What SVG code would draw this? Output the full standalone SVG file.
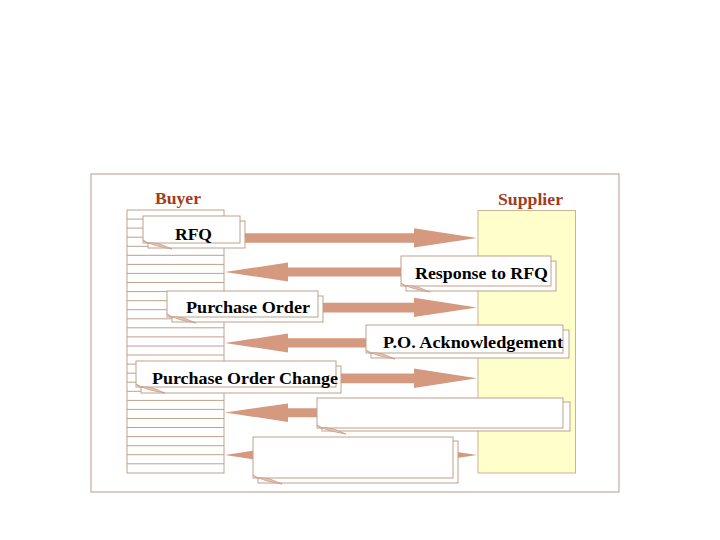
<svg xmlns="http://www.w3.org/2000/svg" width="720" height="540" viewBox="0 0 720 540">
<style>
.frame{fill:#ffffff;stroke:#c4ac9c;stroke-width:1.2}
.buyer{fill:#ffffff;stroke:#bfa08c;stroke-width:1}
.ln{stroke:#bfa08c;stroke-width:1}
.supplier{fill:#ffffcc;stroke:#cdb48e;stroke-width:1}
.arr{fill:#d4997e;stroke:none}
.pg{fill:#ffffff;stroke:#bfa08c;stroke-width:1}
.curl{fill:#e6c4b2;stroke:#bfa08c;stroke-width:0.8}
.hd{font-family:"Liberation Serif","Times New Roman",serif;font-weight:bold;font-size:17px;fill:#a23c1c}
.lb{font-family:"Liberation Serif","Times New Roman",serif;font-weight:bold;font-size:17px;fill:#000000}
</style>
<rect class="frame" x="91" y="174" width="528" height="318"/>
<g id="buyer">
<text class="hd" x="155" y="204" textLength="46" lengthAdjust="spacingAndGlyphs">Buyer</text>
<rect class="buyer" x="127" y="210" width="97" height="263"/>
<g class="ln">
<line x1="127" y1="219.1" x2="224" y2="219.1"/><line x1="127" y1="228.1" x2="224" y2="228.1"/><line x1="127" y1="237.2" x2="224" y2="237.2"/><line x1="127" y1="246.3" x2="224" y2="246.3"/><line x1="127" y1="255.3" x2="224" y2="255.3"/><line x1="127" y1="264.4" x2="224" y2="264.4"/><line x1="127" y1="273.4" x2="224" y2="273.4"/><line x1="127" y1="282.5" x2="224" y2="282.5"/><line x1="127" y1="291.6" x2="224" y2="291.6"/><line x1="127" y1="300.7" x2="224" y2="300.7"/><line x1="127" y1="309.7" x2="224" y2="309.7"/><line x1="127" y1="318.8" x2="224" y2="318.8"/><line x1="127" y1="327.8" x2="224" y2="327.8"/><line x1="127" y1="336.9" x2="224" y2="336.9"/><line x1="127" y1="346" x2="224" y2="346"/><line x1="127" y1="355" x2="224" y2="355"/><line x1="127" y1="364.1" x2="224" y2="364.1"/><line x1="127" y1="373.2" x2="224" y2="373.2"/><line x1="127" y1="382.2" x2="224" y2="382.2"/><line x1="127" y1="391.3" x2="224" y2="391.3"/><line x1="127" y1="400.4" x2="224" y2="400.4"/><line x1="127" y1="409.4" x2="224" y2="409.4"/><line x1="127" y1="418.5" x2="224" y2="418.5"/><line x1="127" y1="427.5" x2="224" y2="427.5"/><line x1="127" y1="436.6" x2="224" y2="436.6"/><line x1="127" y1="445.7" x2="224" y2="445.7"/><line x1="127" y1="454.7" x2="224" y2="454.7"/><line x1="127" y1="463.8" x2="224" y2="463.8"/>
</g>
</g>
<g id="supplier">
<text class="hd" x="498" y="205" textLength="65" lengthAdjust="spacingAndGlyphs">Supplier</text>
<rect class="supplier" x="478" y="210.5" width="97.5" height="262.5"/>
</g>
<g id="connectors">
<polygon class="arr" points="240,233.3 414,233.3 414,228.3 477,238 414,247.5 414,242.7 240,242.7"/>
<polygon class="arr" points="405,267.5 288,267.5 288,262.5 225,272 288,281.5 288,276.5 405,276.5"/>
<polygon class="arr" points="318,302.8 414,302.8 414,297.8 477,307.5 414,317 414,312.5 318,312.5"/>
<polygon class="arr" points="370,338.3 288,338.3 288,333.5 225,343 288,352.5 288,347.5 370,347.5"/>
<polygon class="arr" points="336,373.5 414,373.5 414,368.5 477,378.3 414,388 414,383.3 336,383.3"/>
<polygon class="arr" points="320,408.3 288,408.3 288,403.5 225,412.5 288,422 288,417.3 320,417.3"/>
<polygon class="arr" points="300,450.3 288,450.3 288,445.5 225,455 288,464.5 288,459.7 300,459.7"/>
<polygon class="arr" points="400,450.3 414,450.3 414,445.5 477,455 414,464.5 414,459.7 400,459.7"/>
</g>
<g id="doc-rfq">
<rect class="pg" x="148" y="221" width="97" height="27"/>
<rect class="pg" x="143" y="216" width="97" height="27"/>
<path class="curl" d="M143,240 Q152,246 172,249 L160,244 Q152,242 146,243 Z"/>
<text class="lb" x="175" y="240" textLength="37" lengthAdjust="spacingAndGlyphs">RFQ</text>
</g>
<g id="doc-response">
<rect class="pg" x="406" y="261" width="150" height="30"/>
<rect class="pg" x="401" y="256" width="150" height="30"/>
<path class="curl" d="M401,283 Q410,289 430,292 L418,287 Q410,285 404,286 Z"/>
<text class="lb" x="415" y="279" textLength="133" lengthAdjust="spacingAndGlyphs">Response to RFQ</text>
</g>
<g id="doc-po">
<rect class="pg" x="172" y="296" width="151" height="26"/>
<rect class="pg" x="167" y="291" width="151" height="26"/>
<path class="curl" d="M167,314 Q176,320 196,323 L184,318 Q176,316 170,317 Z"/>
<text class="lb" x="186" y="313" textLength="124" lengthAdjust="spacingAndGlyphs">Purchase Order</text>
</g>
<g id="doc-poack">
<rect class="pg" x="371" y="330" width="198" height="28"/>
<rect class="pg" x="366" y="325" width="197" height="28"/>
<path class="curl" d="M366,350 Q375,356 395,359 L383,354 Q375,352 369,353 Z"/>
<text class="lb" x="383" y="348" textLength="180" lengthAdjust="spacingAndGlyphs">P.O. Acknowledgement</text>
</g>
<g id="doc-poc">
<rect class="pg" x="141" y="366" width="200" height="27"/>
<rect class="pg" x="136" y="361" width="200" height="26"/>
<path class="curl" d="M136,384 Q145,390 165,393 L153,388 Q145,386 139,387 Z"/>
<text class="lb" x="152" y="384" textLength="186" lengthAdjust="spacingAndGlyphs">Purchase Order Change</text>
</g>
<g id="doc-blank1">
<rect class="pg" x="322" y="402" width="248" height="29"/>
<rect class="pg" x="317" y="398" width="246" height="30"/>
<path class="curl" d="M317,425 Q326,431 346,434 L334,429 Q326,427 320,428 Z"/>
</g>
<g id="doc-blank2">
<rect class="pg" x="258" y="441" width="200" height="42"/>
<rect class="pg" x="253" y="437" width="200" height="41"/>
<path class="curl" d="M253,475 Q262,481 282,484 L270,479 Q262,477 256,478 Z"/>
</g>
</svg>
